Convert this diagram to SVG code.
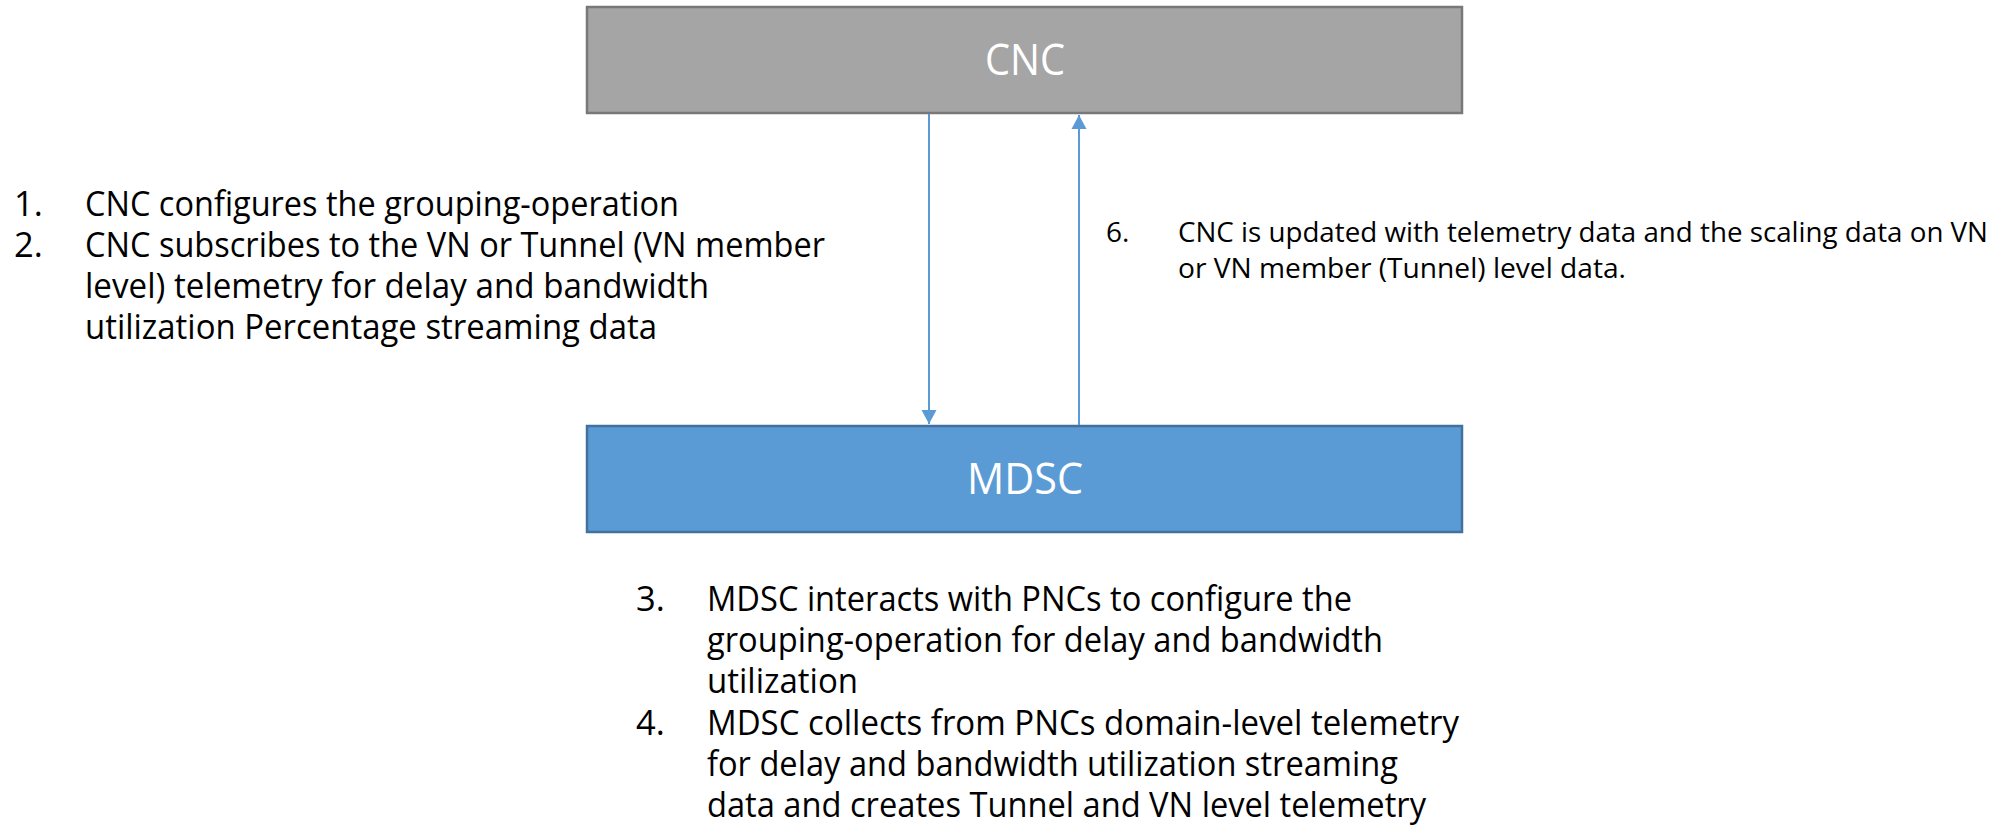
<svg xmlns="http://www.w3.org/2000/svg" width="2010" height="838" viewBox="0 0 2010 838">
<style>
.t{font-family:"Open Sans","Liberation Sans",sans-serif;fill:#000;}
.big{font-size:34.5px;}
.sm{font-size:28px;}
.lbl{font-family:"Open Sans","Liberation Sans",sans-serif;font-size:43px;fill:#fff;}
.conn{stroke:#5B9BD5;stroke-width:2;fill:none;}
</style>
<defs>
<marker id="ah" markerUnits="userSpaceOnUse" markerWidth="16" markerHeight="16" viewBox="0 0 16 16" refX="15" refY="8" orient="auto">
<path d="M1,0.5 L15,8 L1,15.5 Z" fill="#5B9BD5"/>
</marker>
</defs>
<rect width="2010" height="838" fill="#fff"/>
<g id="cnc">
<rect x="587" y="7" width="875" height="106" fill="#A5A5A5" stroke="#787878" stroke-width="2.5"/>
<text class="lbl" x="1025" y="75" text-anchor="middle" textLength="80" lengthAdjust="spacingAndGlyphs">CNC</text>
</g>
<g id="mdsc">
<rect x="587" y="426" width="875" height="106" fill="#5B9BD5" stroke="#41719C" stroke-width="2.5"/>
<text class="lbl" x="1025" y="494" text-anchor="middle" textLength="116" lengthAdjust="spacingAndGlyphs">MDSC</text>
</g>
<g id="connectors">
<line class="conn" x1="929" y1="114" x2="929" y2="424" marker-end="url(#ah)"/>
<line class="conn" x1="1079" y1="425" x2="1079" y2="115" marker-end="url(#ah)"/>
</g>
<g id="notes-left">
<text class="t big"><tspan x="14" y="216">1.</tspan><tspan x="85" y="216" textLength="594" lengthAdjust="spacingAndGlyphs">CNC configures the grouping-operation</tspan><tspan x="14" y="257">2.</tspan><tspan x="85" y="257" textLength="740" lengthAdjust="spacingAndGlyphs">CNC subscribes to the VN or Tunnel (VN member</tspan><tspan x="85" y="298" textLength="624" lengthAdjust="spacingAndGlyphs">level) telemetry for delay and bandwidth</tspan><tspan x="85" y="339" textLength="572" lengthAdjust="spacingAndGlyphs">utilization Percentage streaming data</tspan></text>
</g>
<g id="notes-right">
<text class="t sm"><tspan x="1106" y="242">6.</tspan><tspan x="1178" y="242" textLength="810" lengthAdjust="spacingAndGlyphs">CNC is updated with telemetry data and the scaling data on VN</tspan><tspan x="1178" y="278" textLength="448" lengthAdjust="spacingAndGlyphs">or VN member (Tunnel) level data.</tspan></text>
</g>
<g id="notes-bottom">
<text class="t big"><tspan x="636" y="611">3.</tspan><tspan x="707" y="611" textLength="645" lengthAdjust="spacingAndGlyphs">MDSC interacts with PNCs to configure the</tspan><tspan x="707" y="652" textLength="676" lengthAdjust="spacingAndGlyphs">grouping-operation for delay and bandwidth</tspan><tspan x="707" y="693" textLength="151" lengthAdjust="spacingAndGlyphs">utilization</tspan><tspan x="636" y="735">4.</tspan><tspan x="707" y="735" textLength="752" lengthAdjust="spacingAndGlyphs">MDSC collects from PNCs domain-level telemetry</tspan><tspan x="707" y="776" textLength="691" lengthAdjust="spacingAndGlyphs">for delay and bandwidth utilization streaming</tspan><tspan x="707" y="817" textLength="719" lengthAdjust="spacingAndGlyphs">data and creates Tunnel and VN level telemetry</tspan></text>
</g>
</svg>
